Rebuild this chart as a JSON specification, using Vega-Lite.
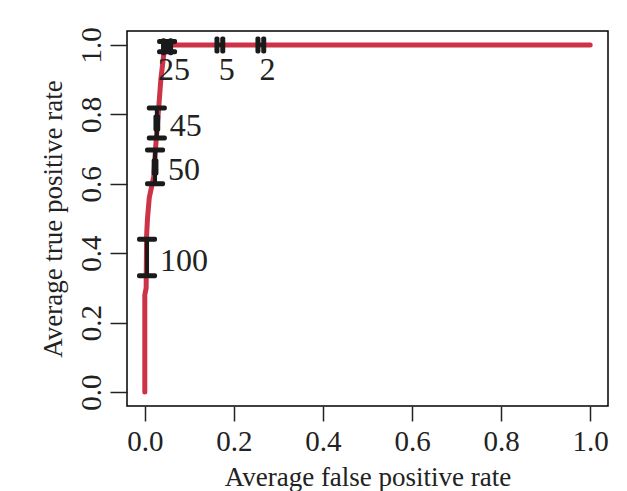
{
  "$schema": "https://vega.github.io/schema/vega-lite/v6.json",
  "width": 481,
  "height": 375,
  "autosize": "none",
  "padding": {"left": 127, "top": 31, "right": 19, "bottom": 85},
  "background": "white",
  "config": {
    "view": {"stroke": "black", "strokeWidth": 1.5},
    "font": "Liberation Serif",
    "axis": {
      "labelFont": "Liberation Serif",
      "titleFont": "Liberation Serif",
      "labelFontSize": 29,
      "titleFontSize": 27,
      "titleFontWeight": "normal",
      "labelColor": "#222",
      "titleColor": "#222",
      "tickColor": "#222",
      "tickWidth": 1.5,
      "domain": false,
      "grid": false
    }
  },
  "datasets": {
    "curve": [
      {"fpr": 0, "tpr": 0},
      {"fpr": 0, "tpr": 0.28},
      {"fpr": 0.003, "tpr": 0.3},
      {"fpr": 0.004, "tpr": 0.45},
      {"fpr": 0.006, "tpr": 0.5},
      {"fpr": 0.01, "tpr": 0.56},
      {"fpr": 0.015, "tpr": 0.59},
      {"fpr": 0.02, "tpr": 0.62},
      {"fpr": 0.024, "tpr": 0.7},
      {"fpr": 0.03, "tpr": 0.8},
      {"fpr": 0.036, "tpr": 0.9},
      {"fpr": 0.045, "tpr": 1.0},
      {"fpr": 1.0, "tpr": 1.0}
    ],
    "vbars": [
      {"label": "100", "fpr": 0.005, "lo": 0.335, "hi": 0.44},
      {"label": "50", "fpr": 0.023, "lo": 0.6, "hi": 0.697},
      {"label": "45", "fpr": 0.027, "lo": 0.732, "hi": 0.818},
      {"label": "25", "fpr": 0.05, "lo": 0.98, "hi": 1.01}
    ],
    "hbars": [
      {"label": "50", "tpr": 0.648, "lo": 0.021, "hi": 0.025},
      {"label": "45", "tpr": 0.775, "lo": 0.025, "hi": 0.029},
      {"label": "25", "tpr": 0.995, "lo": 0.042, "hi": 0.058},
      {"label": "5", "tpr": 1.0, "lo": 0.162, "hi": 0.175},
      {"label": "2", "tpr": 1.0, "lo": 0.254, "hi": 0.267}
    ],
    "labels": [
      {"label": "100", "fpr": 0.005, "tpr": 0.386, "pos": "right"},
      {"label": "50", "fpr": 0.023, "tpr": 0.648, "pos": "right"},
      {"label": "45", "fpr": 0.027, "tpr": 0.775, "pos": "right"},
      {"label": "25", "fpr": 0.05, "tpr": 1.0, "pos": "below"},
      {"label": "5", "fpr": 0.168, "tpr": 1.0, "pos": "below"},
      {"label": "2", "fpr": 0.26, "tpr": 1.0, "pos": "below"}
    ]
  },
  "encoding": {
    "x": {
      "field": "fpr", "type": "quantitative",
      "scale": {"domain": [-0.04, 1.04], "nice": false, "zero": false},
      "axis": {
        "values": [0, 0.2, 0.4, 0.6, 0.8, 1.0], "format": ".1f",
        "tickSize": 15, "labelPadding": 6,
        "title": "Average false positive rate", "titlePadding": 8
      }
    },
    "y": {
      "field": "tpr", "type": "quantitative",
      "scale": {"domain": [-0.04, 1.04], "nice": false, "zero": false},
      "axis": {
        "values": [0, 0.2, 0.4, 0.6, 0.8, 1.0], "format": ".1f",
        "tickSize": 17, "labelPadding": 4,
        "labelAngle": -90, "labelAlign": "center", "labelBaseline": "bottom",
        "title": "Average true positive rate", "titlePadding": 10
      }
    }
  },
  "layer": [
    {
      "data": {"name": "curve"},
      "mark": {"type": "line", "color": "#cc3347", "strokeWidth": 5, "strokeCap": "round", "strokeJoin": "round"},
      "encoding": {}
    },
    {
      "data": {"name": "vbars"},
      "mark": {"type": "rule", "color": "#1a1a1a", "strokeWidth": 4},
      "encoding": {
        "y": {"field": "lo", "type": "quantitative"},
        "y2": {"field": "hi"}
      }
    },
    {
      "data": {"name": "vbars"},
      "mark": {"type": "tick", "orient": "horizontal", "color": "#1a1a1a", "opacity": 1, "size": 20, "thickness": 5, "cornerRadius": 2},
      "encoding": {"y": {"field": "lo", "type": "quantitative"}}
    },
    {
      "data": {"name": "vbars"},
      "mark": {"type": "tick", "orient": "horizontal", "color": "#1a1a1a", "opacity": 1, "size": 20, "thickness": 5, "cornerRadius": 2},
      "encoding": {"y": {"field": "hi", "type": "quantitative"}}
    },
    {
      "data": {"name": "hbars"},
      "mark": {"type": "rule", "color": "#1a1a1a", "strokeWidth": 4},
      "encoding": {
        "x": {"field": "lo", "type": "quantitative"},
        "x2": {"field": "hi"}
      }
    },
    {
      "data": {"name": "hbars"},
      "mark": {"type": "tick", "orient": "vertical", "color": "#1a1a1a", "opacity": 1, "size": 17, "thickness": 5, "cornerRadius": 2},
      "encoding": {"x": {"field": "lo", "type": "quantitative"}}
    },
    {
      "data": {"name": "hbars"},
      "mark": {"type": "tick", "orient": "vertical", "color": "#1a1a1a", "opacity": 1, "size": 17, "thickness": 5, "cornerRadius": 2},
      "encoding": {"x": {"field": "hi", "type": "quantitative"}}
    },
    {
      "data": {"name": "labels"},
      "transform": [{"filter": "datum.pos == 'right'"}],
      "mark": {"type": "text", "align": "left", "baseline": "middle", "dx": 13, "dy": 3, "fontSize": 32, "font": "Liberation Serif", "color": "#222"},
      "encoding": {"text": {"field": "label"}}
    },
    {
      "data": {"name": "labels"},
      "transform": [{"filter": "datum.pos == 'below'"}],
      "mark": {"type": "text", "align": "center", "baseline": "top", "dx": 7, "dy": 10, "fontSize": 32, "font": "Liberation Serif", "color": "#222"},
      "encoding": {"text": {"field": "label"}}
    }
  ]
}
